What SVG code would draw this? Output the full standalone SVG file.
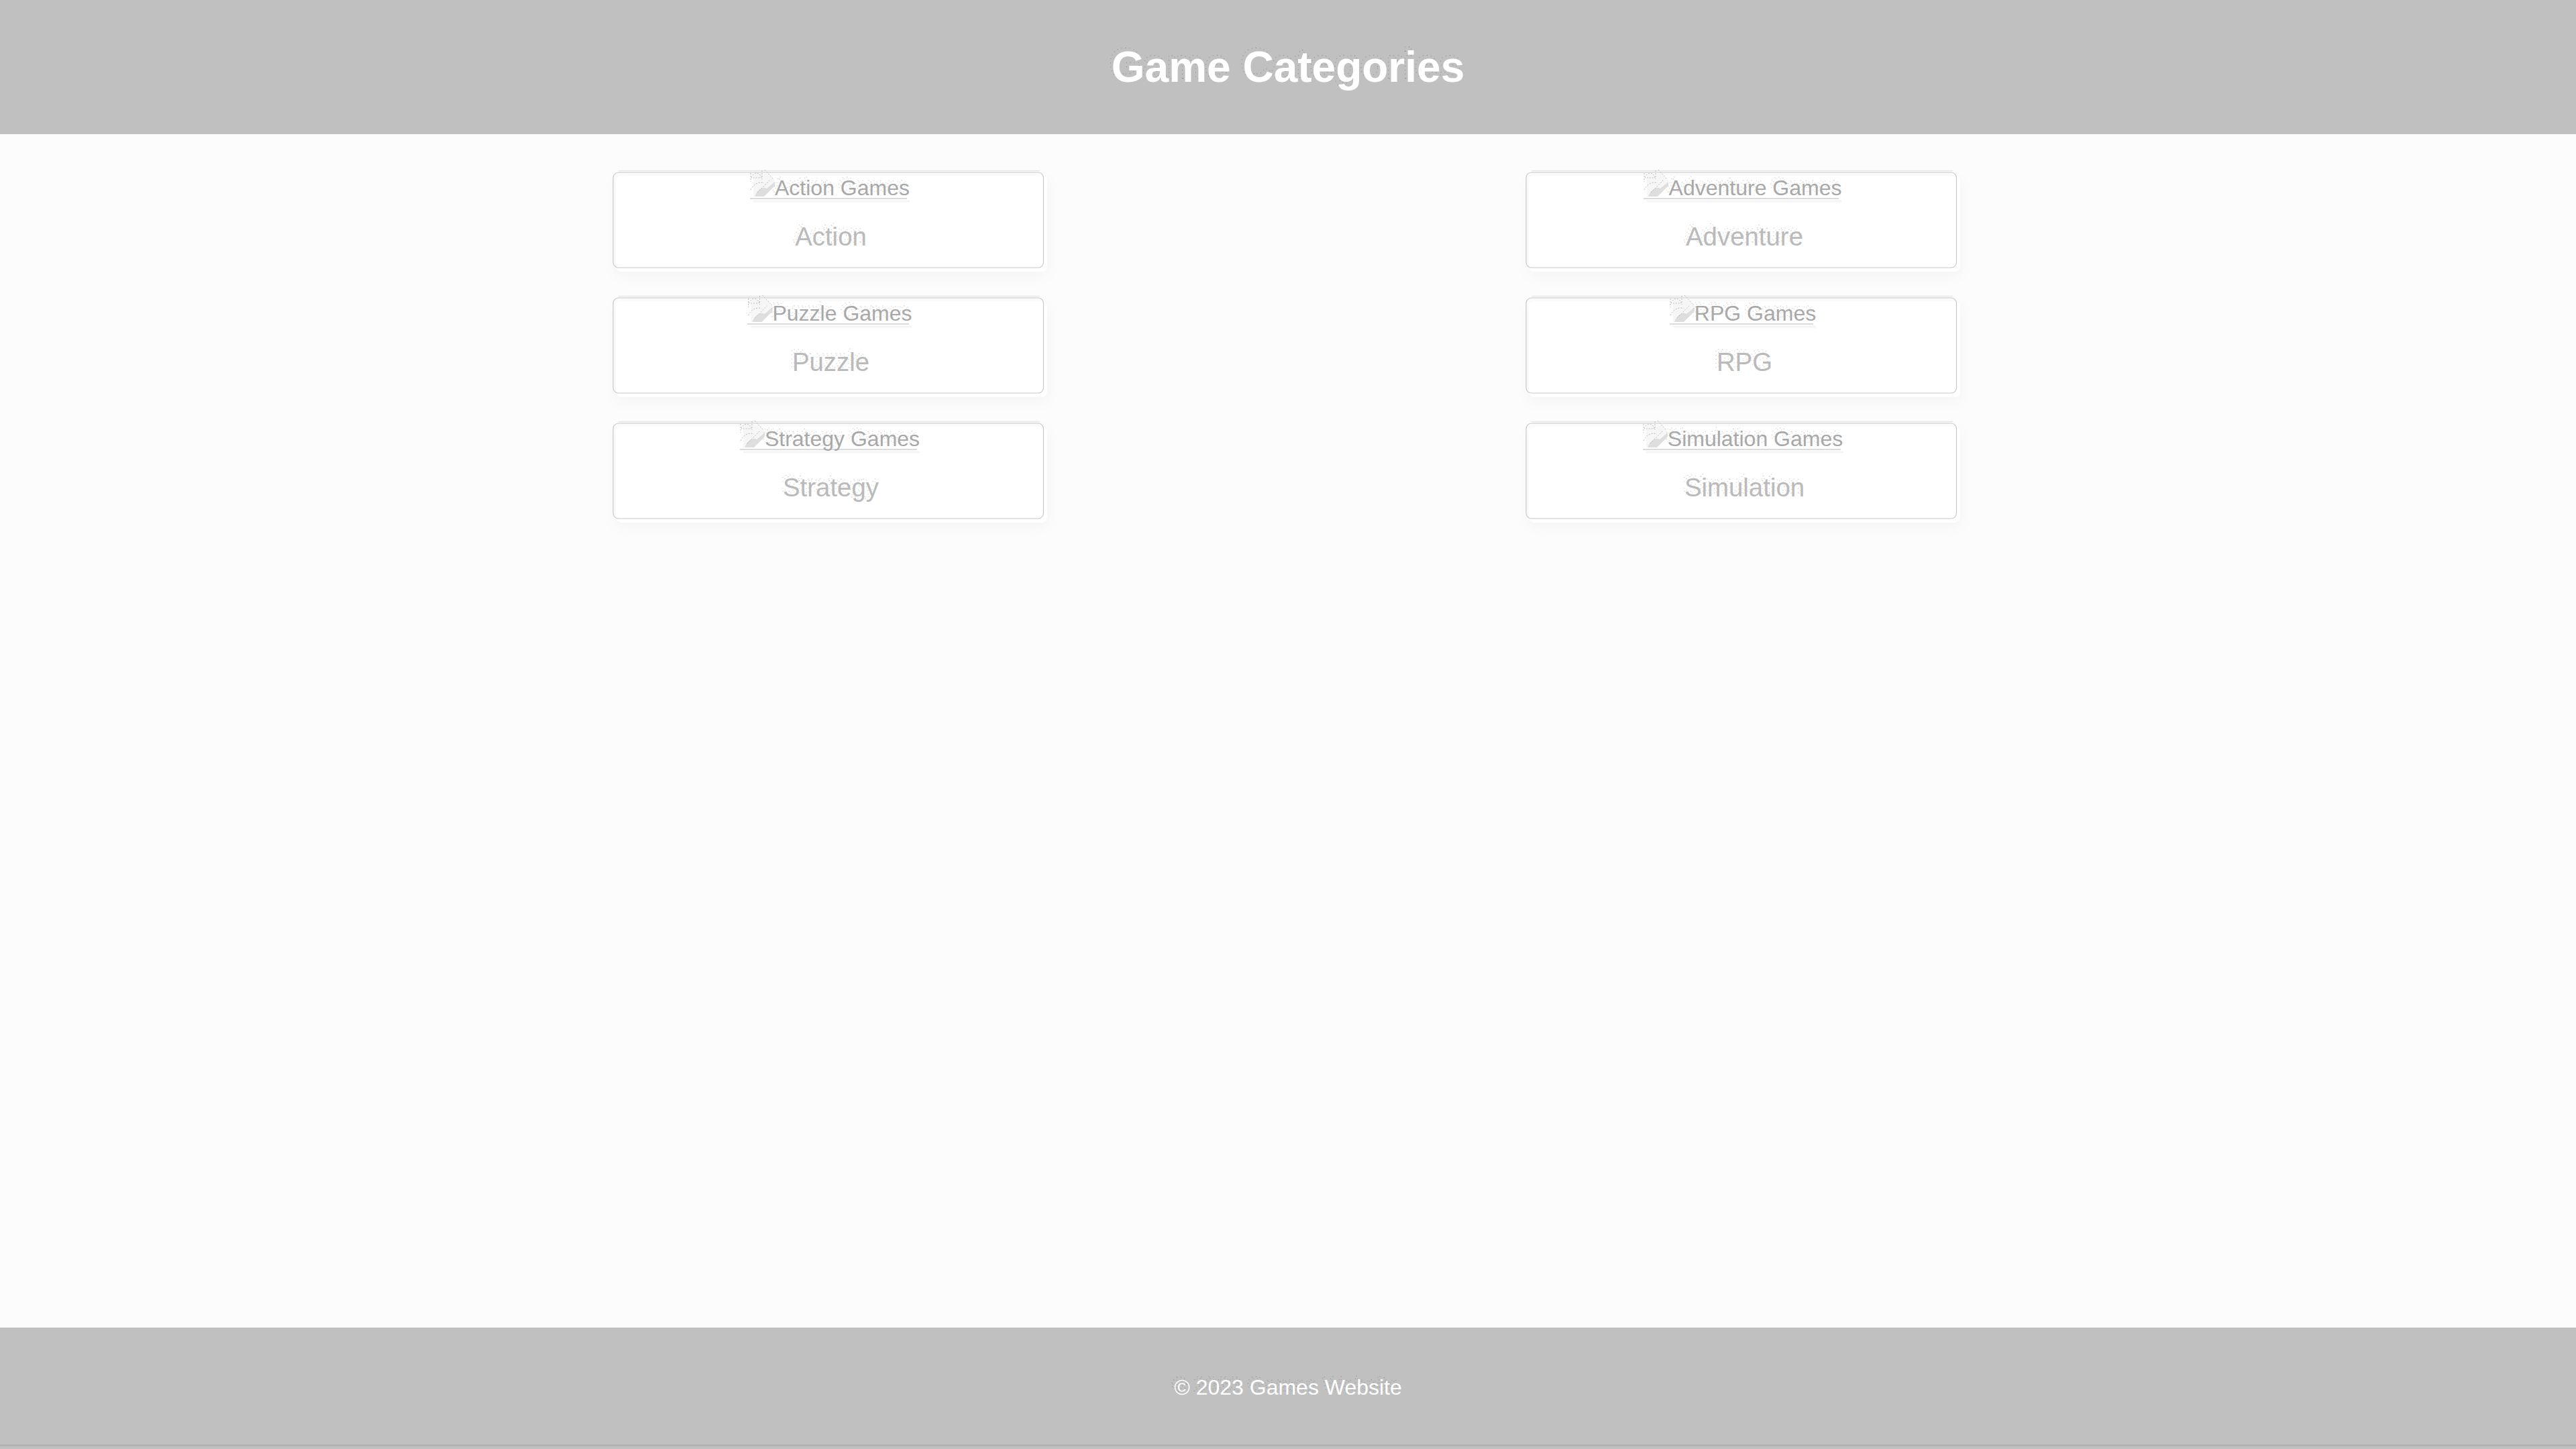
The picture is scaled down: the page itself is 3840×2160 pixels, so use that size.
<svg xmlns="http://www.w3.org/2000/svg" xmlns:xlink="http://www.w3.org/1999/xlink" width="3840" height="2160" viewBox="0 0 3840 2160">
<style>
text{font-family:"Liberation Sans",Arial,sans-serif;text-anchor:middle}
.bar{fill:#c0c0c0}
.card{fill:#fff}
.shadow{fill:#000;fill-opacity:.03;filter:url(#blur)}
.edge{fill:none;stroke:#c8c8c8;stroke-width:1.200}
.edge2{fill:none;stroke:#e8e8e8;stroke-width:1.500}
.name{font-size:38.4px}
.alt{font-size:32px}
.title{font-size:64px;font-weight:700}
.foot{font-size:32px}
.fn{fill:#bababa}
.fa{fill:#a8a8a8}
.fw{fill:#fff}
.ghost{fill:none;stroke:#b4b4b4;stroke-width:.8;stroke-dasharray:1 5}
.ghostd{fill:none;stroke:#808080;stroke-width:.8;stroke-dasharray:1 5}
.ul{stroke:#cfcfcf;stroke-width:1.500;fill:none}
.ul2{stroke:#f4f4f4;stroke-width:3;fill:none}
</style>
<defs>
<filter id="blur" x="-10%" y="-30%" width="120%" height="160%"><feGaussianBlur stdDeviation="10"/></filter>
<g id="icon">
<path d="M0 0H22L32 10V34H0Z" fill="#f6f6f6"/>
<path d="M2 34C6 24 14 18 20 22L32 12V34Z" fill="#dedede"/>
<path d="M16 34L32 18V34Z" fill="#fff"/>
<path d="M-4 -1V12M-3 6C0 -3 10 -3 12 6H-3M13 -5V8M17 -6L30 8M-4 24C2 12 12 12 16 14M6 28L24 10" fill="none" stroke="#bbb" stroke-width="1" stroke-dasharray="2 2"/>
</g>
</defs>
<rect width="3840" height="2160" fill="#fcfcfc"/>
<g id="header">
<rect class="bar" width="3840" height="200"/>
<use href="#title" x="-4" y="-5" class="ghostd"/>
<g class="fw"><text id="title" class="title" x="1920" y="122">Game Categories</text></g>
</g>
<g id="card-action">
<rect class="shadow" x="918" y="268" width="643" height="143" rx="8"/>
<rect class="card" x="918" y="262" width="643" height="143" rx="8"/>
<path class="edge2" d="M922 254.500H1550"/>
<rect class="edge" x="914" y="257" width="641.500" height="142" rx="8"/>
<use href="#icon" x="1123" y="259"/>
<path class="ul2" d="M1123 300H1356"/><path class="ul" d="M1118 296H1352"/>
<use href="#a1" x="-4" y="-5" class="ghost"/>
<g class="fa"><text id="a1" class="alt" x="1255.500" y="291">Action Games</text></g>
<use href="#n1" x="-4" y="-5" class="ghost"/>
<g class="fn"><text id="n1" class="name" x="1238.500" y="366">Action</text></g>
</g>
<g id="card-adventure">
<rect class="shadow" x="2279" y="268" width="643" height="143" rx="8"/>
<rect class="card" x="2279" y="262" width="643" height="143" rx="8"/>
<path class="edge2" d="M2283 254.500H2911"/>
<rect class="edge" x="2275" y="257" width="641.500" height="142" rx="8"/>
<use href="#icon" x="2455" y="259"/>
<path class="ul2" d="M2455 300H2745"/><path class="ul" d="M2450 296H2741"/>
<use href="#a2" x="-4" y="-5" class="ghost"/>
<g class="fa"><text id="a2" class="alt" x="2616.500" y="291">Adventure Games</text></g>
<use href="#n2" x="-4" y="-5" class="ghost"/>
<g class="fn"><text id="n2" class="name" x="2600.500" y="366">Adventure</text></g>
</g>
<g id="card-puzzle">
<rect class="shadow" x="918" y="455" width="643" height="143" rx="8"/>
<rect class="card" x="918" y="449" width="643" height="143" rx="8"/>
<path class="edge2" d="M922 441.500H1550"/>
<rect class="edge" x="914" y="444" width="641.500" height="142" rx="8"/>
<use href="#icon" x="1119.500" y="446"/>
<path class="ul2" d="M1119 487H1359"/><path class="ul" d="M1114 483H1355"/>
<use href="#a3" x="-4" y="-5" class="ghost"/>
<g class="fa"><text id="a3" class="alt" x="1255.500" y="478">Puzzle Games</text></g>
<use href="#n3" x="-4" y="-5" class="ghost"/>
<g class="fn"><text id="n3" class="name" x="1238.500" y="553">Puzzle</text></g>
</g>
<g id="card-rpg">
<rect class="shadow" x="2279" y="455" width="643" height="143" rx="8"/>
<rect class="card" x="2279" y="449" width="643" height="143" rx="8"/>
<path class="edge2" d="M2283 441.500H2911"/>
<rect class="edge" x="2275" y="444" width="641.500" height="142" rx="8"/>
<use href="#icon" x="2494" y="446"/>
<path class="ul2" d="M2494 487H2707"/><path class="ul" d="M2489 483H2703"/>
<use href="#a4" x="-4" y="-5" class="ghost"/>
<g class="fa"><text id="a4" class="alt" x="2616.500" y="478">RPG Games</text></g>
<use href="#n4" x="-4" y="-5" class="ghost"/>
<g class="fn"><text id="n4" class="name" x="2600.500" y="553">RPG</text></g>
</g>
<g id="card-strategy">
<rect class="shadow" x="918" y="642" width="643" height="143" rx="8"/>
<rect class="card" x="918" y="636" width="643" height="143" rx="8"/>
<path class="edge2" d="M922 628.500H1550"/>
<rect class="edge" x="914" y="631" width="641.500" height="142" rx="8"/>
<use href="#icon" x="1108" y="633"/>
<path class="ul2" d="M1108 674H1371"/><path class="ul" d="M1103 670H1367"/>
<use href="#a5" x="-4" y="-5" class="ghost"/>
<g class="fa"><text id="a5" class="alt" x="1255.500" y="665">Strategy Games</text></g>
<use href="#n5" x="-4" y="-5" class="ghost"/>
<g class="fn"><text id="n5" class="name" x="1238.500" y="740">Strategy</text></g>
</g>
<g id="card-simulation">
<rect class="shadow" x="2279" y="642" width="643" height="143" rx="8"/>
<rect class="card" x="2279" y="636" width="643" height="143" rx="8"/>
<path class="edge2" d="M2283 628.500H2911"/>
<rect class="edge" x="2275" y="631" width="641.500" height="142" rx="8"/>
<use href="#icon" x="2454" y="633"/>
<path class="ul2" d="M2454 674H2748"/><path class="ul" d="M2449 670H2744"/>
<use href="#a6" x="-4" y="-5" class="ghost"/>
<g class="fa"><text id="a6" class="alt" x="2616.500" y="665">Simulation Games</text></g>
<use href="#n6" x="-4" y="-5" class="ghost"/>
<g class="fn"><text id="n6" class="name" x="2600.500" y="740">Simulation</text></g>
</g>
<g id="footer">
<rect class="bar" y="1979" width="3840" height="181"/>
<path d="M0 2154.500H3840" stroke="#acacac" stroke-width="2"/>
<use href="#foot" x="-4" y="-5" class="ghostd"/>
<g class="fw"><text id="foot" class="foot" x="1920" y="2079">© 2023 Games Website</text></g>
</g>
<g id="connectors"/>
</svg>
